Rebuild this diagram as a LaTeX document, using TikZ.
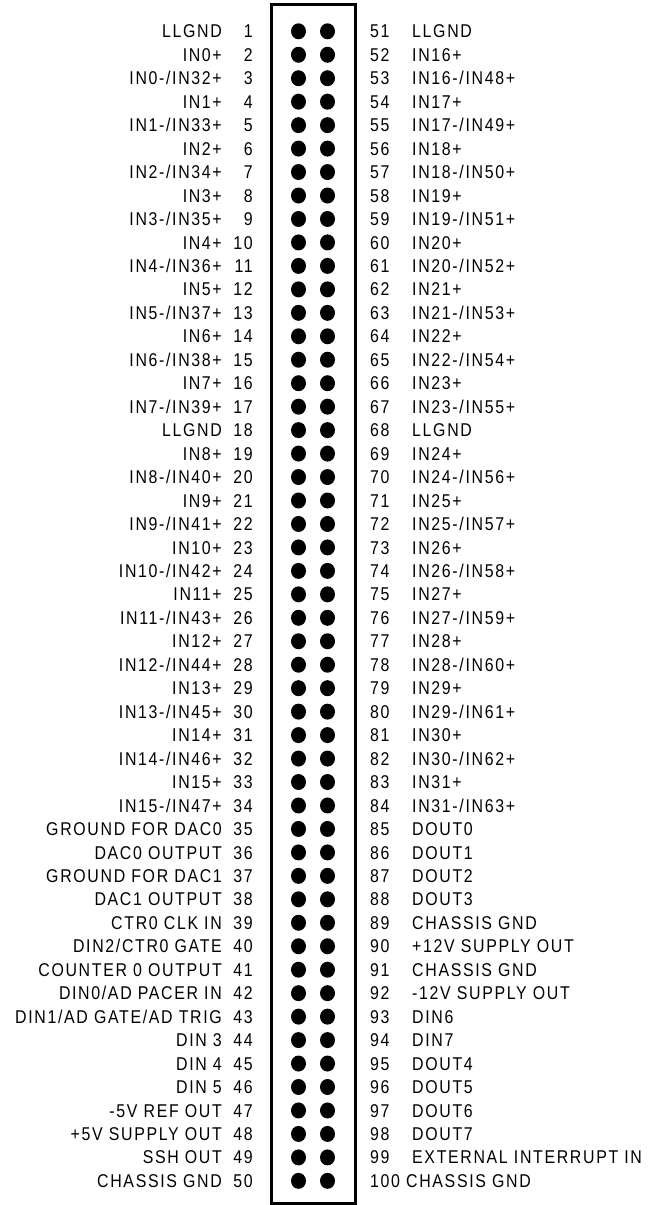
\documentclass[tikz,border=0pt]{standalone}
\usepackage{fontspec}
\usetikzlibrary{shapes.geometric}
\newfontfamily\pinfont{Liberation Sans}[FakeStretch=0.86,LetterSpace=9]
\begin{document}
\begin{tikzpicture}[x=1pt,y=-1pt,
  lbl/.style={font=\pinfont\fontsize{18.5}{20}\selectfont, inner sep=0pt, text=black},
  pindot/.style={ellipse, fill=black, inner sep=0pt, minimum width=15pt, minimum height=16pt},
  connbox/.style={draw=black, line width=3pt, inner sep=0pt, minimum width=84pt, minimum height=1198.5pt}]
\useasboundingbox (0,0) rectangle (648,1205);
\node[connbox] (conn) at (313,603.75) {};
% left side pins 1..50
\foreach \t [count=\i] in {LLGND,IN0+,{IN0-/IN32+},IN1+,{IN1-/IN33+},IN2+,{IN2-/IN34+},IN3+,{IN3-/IN35+},IN4+,{IN4-/IN36+},IN5+,{IN5-/IN37+},IN6+,{IN6-/IN38+},IN7+,{IN7-/IN39+},LLGND,IN8+,{IN8-/IN40+},IN9+,{IN9-/IN41+},IN10+,{IN10-/IN42+},IN11+,{IN11-/IN43+},IN12+,{IN12-/IN44+},IN13+,{IN13-/IN45+},IN14+,{IN14-/IN46+},IN15+,{IN15-/IN47+},GROUND FOR DAC0,DAC0 OUTPUT,GROUND FOR DAC1,DAC1 OUTPUT,CTR0 CLK IN,{DIN2/CTR0 GATE},COUNTER 0 OUTPUT,{DIN0/AD PACER IN},{DIN1/AD GATE/AD TRIG},DIN 3,DIN 4,DIN 5,-5V REF OUT,+5V SUPPLY OUT,SSH OUT,CHASSIS GND}{
  \pgfmathsetmacro\yy{31.3+(\i-1)*23.46}
  \node[pindot] (pa\i) at (298.5,\yy) {};
  \node[pindot] (pb\i) at (327.5,\yy) {};
  \node[lbl, anchor=base east] (LN\i) at (253,{\yy+6.6}) {\i};
  \node[lbl, anchor=base east] (L\i) at (222,{\yy+6.6}) {\t};
}
% right side pins 51..99
\foreach \t [count=\i from 51] in {LLGND,IN16+,{IN16-/IN48+},IN17+,{IN17-/IN49+},IN18+,{IN18-/IN50+},IN19+,{IN19-/IN51+},IN20+,{IN20-/IN52+},IN21+,{IN21-/IN53+},IN22+,{IN22-/IN54+},IN23+,{IN23-/IN55+},LLGND,IN24+,{IN24-/IN56+},IN25+,{IN25-/IN57+},IN26+,{IN26-/IN58+},IN27+,{IN27-/IN59+},IN28+,{IN28-/IN60+},IN29+,{IN29-/IN61+},IN30+,{IN30-/IN62+},IN31+,{IN31-/IN63+},DOUT0,DOUT1,DOUT2,DOUT3,CHASSIS GND,+12V SUPPLY OUT,CHASSIS GND,-12V SUPPLY OUT,DIN6,DIN7,DOUT4,DOUT5,DOUT6,DOUT7,EXTERNAL INTERRUPT IN}{
  \pgfmathsetmacro\yy{31.3+(\i-51)*23.46}
  \node[lbl, anchor=base west] (RN\i) at (370,{\yy+6.6}) {\i};
  \node[lbl, anchor=base west] (R\i) at (412,{\yy+6.6}) {\t};
}
\node[lbl, anchor=base west] (R100) at (370,{31.3+49*23.46+6.6}) {100 CHASSIS GND};
\end{tikzpicture}
\end{document}
